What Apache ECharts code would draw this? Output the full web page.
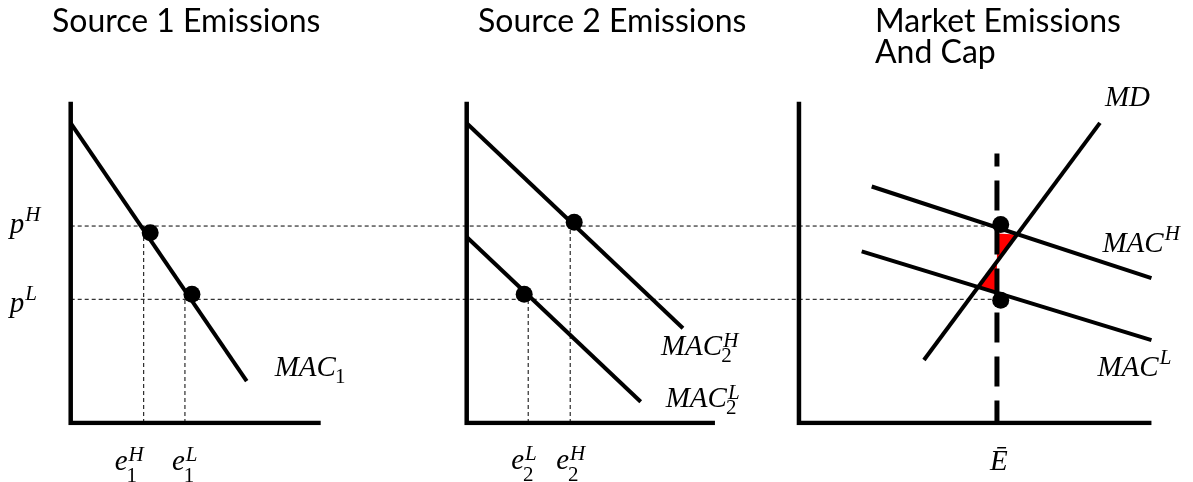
<!DOCTYPE html>
<html>
<head>
<meta charset="utf-8">
<script src="https://cdn.jsdelivr.net/npm/echarts@6/dist/echarts.min.js"></script>
<style>
  html, body { margin: 0; background: #fff; }
  #chart { width: 1193px; height: 482px; }
</style>
</head>
<body>
<div id="chart"></div>
<script>
// price levels, shared by all three panels
const pHigh = 6.13
const pLow = 3.85

// Source 1
const mac1 = [[0, 9.33], [7.04, 1.30]]
const e1High = 2.92
const e1Low = 4.57
const source1Dots = [[3.18, 5.92], [4.85, 4.01]]

// Source 2
const mac2High = [[0, 9.33], [8.65, 2.95]]
const mac2Low = [[0, 5.79], [6.96, 0.66]]
const e2Low = 2.46
const e2High = 4.14
const source2Dots = [[4.30, 6.25], [2.30, 4.01]]

// Market
const md = [[5.0, 1.96], [12.04, 9.34]]
const macHigh = [[2.91, 7.36], [14.1, 4.51]]
const macLow = [[2.51, 5.34], [14.1, 2.58]]
const eBar = 7.92
const capTop = 8.39
const marketDots = [[8.07, 6.18], [8.07, 3.82]]
const lossHigh = [[7.92, 5.9], [8.7, 5.87], [7.92, 5.03]]
const lossLow = [[7.92, 5.01], [7.17, 4.23], [7.92, 4.1]]

// where each panel's origin sits on the shared x scale
const panelStart = [0, 15.84, 29.13]
const panelWidth = [10, 9.93, 14.1]
const panelHeight = 10

const titles = ['Source 1 Emissions', 'Source 2 Emissions', 'Market Emissions\nAnd Cap']

const MAIN_FONT = 'italic 29px "Liberation Serif"'
const SUP_FONT = 'italic 21px "Liberation Serif"'
const SUB_FONT = '21px "Liberation Serif"'
const TITLE_SIZE = 32

const ctx = document.createElement('canvas').getContext('2d')
const textWidth = (s, font) => { ctx.font = font; return ctx.measureText(s).width }
// distance from the 'middle' baseline down to the alphabetic one
const midShift = (font) => {
  ctx.font = font
  ctx.textBaseline = 'middle'
  return ctx.measureText('H').actualBoundingBoxDescent
}

const shift = (pts, i) => pts.map(([x, y]) => [x + panelStart[i], y])
const endOf = (pts, i) => shift(pts, i)[pts.length - 1]

const labels = [
  { at: [panelStart[0], pHigh], dx: -61, dy: 7, main: 'p', sup: 'H' },
  { at: [panelStart[0], pLow], dx: -61, dy: 13, main: 'p', sup: 'L' },
  { at: [panelStart[0] + e1High, 0], dx: -29, dy: 47, main: 'e', sup: 'H', sub: '1', supDy: -9, subDy: 12 },
  { at: [panelStart[0] + e1Low, 0], dx: -13, dy: 47, main: 'e', sup: 'L', sub: '1', supDy: -9, subDy: 12 },
  { at: [panelStart[1] + e2Low, 0], dx: -17, dy: 46, main: 'e', sup: 'L', sub: '2', supDy: -9, subDy: 12 },
  { at: [panelStart[1] + e2High, 0], dx: -14, dy: 46, main: 'e', sup: 'H', sub: '2', supDy: -9, subDy: 12 },
  { at: endOf(mac1, 0), dx: 28, dy: -5, main: 'MAC', sub: '1' },
  { at: endOf(mac2High, 1), dx: -22, dy: 27, main: 'MAC', sup: 'H', sub: '2', supDy: -8 },
  { at: endOf(mac2Low, 1), dx: 25, dy: 5, main: 'MAC', sup: 'L', sub: '2', supDy: -8 },
  { at: endOf(md, 2), dx: 5, dy: -17, main: 'MD' },
  { at: endOf(macHigh, 2), dx: -49, dy: -26, main: 'MAC', sup: 'H' },
  { at: endOf(macLow, 2), dx: -54, dy: 36, main: 'MAC', sup: 'L' },
  { at: [panelStart[2] + eBar, 0], dx: -7, dy: 47, main: 'Ē' }
]

function textEl (str, font, x, baseY) {
  return {
    type: 'text',
    x: x,
    y: baseY - midShift(font),
    style: { text: str, font: font, fill: '#000', align: 'left', verticalAlign: 'middle' }
  }
}

function renderLabel (params, api) {
  const lab = labels[params.dataIndex]
  const pt = api.coord([api.value(0), api.value(1)])
  const x0 = pt[0] + lab.dx
  const base = pt[1] + lab.dy
  const w = textWidth(lab.main, MAIN_FONT)
  const kids = [textEl(lab.main, MAIN_FONT, x0, base)]
  if (lab.sup) kids.push(textEl(lab.sup, SUP_FONT, x0 + w + 1, base + (lab.supDy || -12)))
  if (lab.sub) kids.push(textEl(lab.sub, SUB_FONT, x0 + w - 1, base + (lab.subDy || 7)))
  return { type: 'group', children: kids }
}

function renderPolygon (pts) {
  return (params, api) => {
    if (params.dataIndex > 0) return
    return {
      type: 'polygon',
      shape: { points: pts.map(p => api.coord(p)) },
      style: { fill: '#ff0000' }
    }
  }
}

const line = (data, lineStyle, z) => ({
  type: 'line',
  data: data,
  symbol: 'none',
  silent: true,
  z: z,
  lineStyle: Object.assign({ color: '#000', width: 4 }, lineStyle)
})

const guide = { width: 1, type: [4, 3] }
const ebarX = panelStart[2] + eBar

const series = []

// thin dashed guides
series.push(line([[panelStart[0], pHigh], [ebarX, pHigh]], guide, 1))
series.push(line([[panelStart[0], pLow], [ebarX, pLow]], guide, 1))
series.push(line([[e1High, 0], [e1High, pHigh]], guide, 1))
series.push(line([[e1Low, 0], [e1Low, pLow]], guide, 1))
series.push(line(shift([[e2Low, 0], [e2Low, pLow]], 1), guide, 1))
series.push(line(shift([[e2High, 0], [e2High, pHigh]], 1), guide, 1))

// red loss triangles
const redHigh = shift(lossHigh, 2)
const redLow = shift(lossLow, 2)
series.push({ type: 'custom', data: redHigh, renderItem: renderPolygon(redHigh), silent: true, z: 2 })
series.push({ type: 'custom', data: redLow, renderItem: renderPolygon(redLow), silent: true, z: 2 })

// cap
series.push(line([[ebarX, capTop], [ebarX, 0]], { width: 5, type: [30, 14], dashOffset: 17 }, 3))

// panel axes
panelStart.forEach((x0, i) => {
  series.push(line([[x0, panelHeight], [x0, 0], [x0 + panelWidth[i], 0]], { width: 4.5, join: 'miter' }, 4))
})

// curves
series.push(line(shift(mac1, 0), {}, 4))
series.push(line(shift(mac2High, 1), {}, 4))
series.push(line(shift(mac2Low, 1), {}, 4))
series.push(line(shift(md, 2), {}, 4))
series.push(line(shift(macHigh, 2), {}, 4))
series.push(line(shift(macLow, 2), {}, 4))

// equilibrium dots
series.push({
  type: 'scatter',
  data: shift(source1Dots, 0).concat(shift(source2Dots, 1), shift(marketDots, 2)),
  symbolSize: 17,
  itemStyle: { color: '#000', opacity: 1 },
  silent: true,
  z: 5
})

// math labels
series.push({
  type: 'custom',
  data: labels.map(l => l.at),
  renderItem: renderLabel,
  silent: true,
  z: 6
})

const titleFont = TITLE_SIZE + 'px Lato'
const titleTop = 32 - midShift(titleFont) - 31 / 2
const titleLeft = [52, 478, 875]

const chart = echarts.init(document.getElementById('chart'), null, { renderer: 'canvas' })
chart.setOption({
  animation: false,
  backgroundColor: '#fff',
  title: titles.map((t, i) => ({
    text: t,
    left: titleLeft[i],
    top: titleTop,
    padding: 0,
    textStyle: { fontFamily: 'Lato', fontSize: TITLE_SIZE, fontWeight: 'normal', color: '#000', lineHeight: 31 }
  })),
  grid: { left: 70.7, right: 22.3, top: 101.7, bottom: 59 },
  xAxis: { type: 'value', min: 0, max: 44, show: false },
  yAxis: { type: 'value', min: 0, max: 10, show: false },
  series: series
})
</script>
</body>
</html>
